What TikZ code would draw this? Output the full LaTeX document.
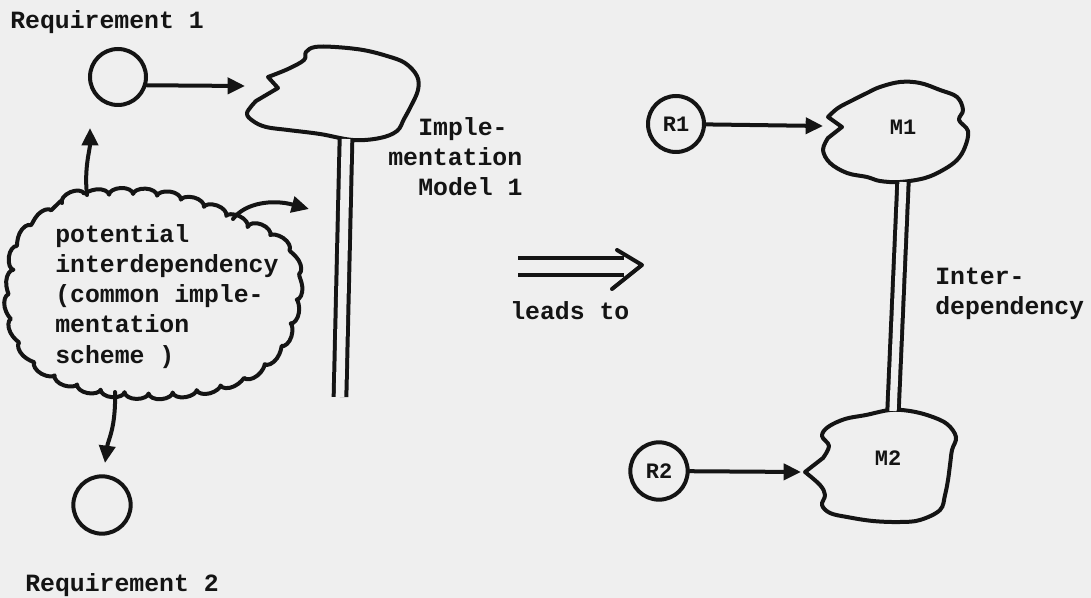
\documentclass[tikz,border=0pt]{standalone}
\usepackage{fontspec}
\setmonofont{Liberation Mono}
\usetikzlibrary{arrows.meta,decorations.pathmorphing}

\definecolor{paper}{HTML}{EFEFEF}
\definecolor{ink}{HTML}{141414}

\begin{document}
\begin{tikzpicture}[x=0.75pt,y=-0.75pt,
  inkline/.style={draw=ink,line width=3pt,line cap=round,line join=round},
  tipped/.style={inkline,-{Triangle[length=13pt,width=12pt]}},
  lbl/.style={font=\fontsize{18.6}{22.6}\selectfont\ttfamily\bfseries,text=ink,inner sep=0pt,align=left},
  small/.style={font=\fontsize{16.5}{19}\selectfont\ttfamily\bfseries,text=ink,inner sep=0pt},
  reqcircle/.style={circle,draw=ink,line width=3pt,minimum size=42pt,inner sep=0pt},
  rail/.style={draw=ink,line width=3pt,double=paper,line cap=butt},
  blob/.style={inkline,fill=paper}
]
\fill[paper] (0,0) rectangle (1091,598);
\useasboundingbox (0,0) rectangle (1091,598);

% ---------------- left half: requirements and implementation model
\node[lbl,anchor=base west] (req1) at (10,29) {Requirement 1};
\node[lbl,anchor=base west] (req2) at (25,591) {Requirement 2};
\node[reqcircle] (c1) at (118,77) {};
\node[reqcircle,minimum size=43pt] (c2) at (102,505) {};

% implementation model 1 cloud
\draw[blob] plot[smooth,tension=0.6] coordinates {
  (256,101) (247,113) (253,121) (266,127) (288,130) (320,134) (353,140)
  (380,138) (397,131) (404,119) (411,106) (418,90) (417,76) (405,63)
  (387,56) (363,50) (335,47) (315,47) (306,52) (304,60) (288,69) (268,77)}
  -- (278,88) -- cycle;
\coordinate (cl1in) at (245,86);
\coordinate (cl1b) at (346,139);
\coordinate (cl1end) at (340,397);
% multi-line labels are anchored at the baseline of their last line
\node[lbl,anchor=base west] (impl) at (388,196)
  {\hspace*{22.5pt}Imple-\\mentation\\\hspace*{22.5pt}Model 1};

\draw[rail,double distance=6.5pt] (cl1b) -- (cl1end);
\draw[tipped] (c1.-16) -- (cl1in);

% potential interdependency cloud (scalloped outline)
\draw[inkline,fill=paper,decorate,decoration={bumps,segment length=36pt,amplitude=5pt}]
  plot[smooth cycle,tension=0.7] coordinates {
  (40,222) (62,203) (100,196) (150,196) (195,205) (232,220) (268,236)
  (288,256) (295,282) (290,318) (276,348) (248,372) (200,388) (135,392)
  (75,382) (35,358) (15,322) (13,282) (20,248)};
\node[lbl,anchor=base west] (pi) at (55,363)
  {potential\\interdependency\\(common imple-\\mentation\\scheme )};
\coordinate (piN) at (87,195);
\coordinate (piNE) at (233,219);
\coordinate (piS) at (115,392);
\coordinate (upTip) at (90,128);
\coordinate (rtTip) at (309,209);
\coordinate (dnTip) at (105,463);
\draw[tipped] (piN) .. controls (84,168) and (90,150) .. (upTip);
\draw[tipped] (piNE) .. controls (245,203) and (272,199) .. (rtTip);
\draw[tipped] (piS) .. controls (116,428) and (108,440) .. (dnTip);

% ---------------- "leads to"
\coordinate (ldS) at (518,266.5);
\coordinate (ldE) at (624,266.5);
\coordinate (ldTip) at (642,265);
\draw[rail,line width=2.8pt,double distance=10pt] (ldS) -- (ldE);
\draw[inkline,line width=3pt] ([shift={(-25,-15)}]ldTip) -- (ldTip) -- ([shift={(-30,24)}]ldTip);
\node[lbl,anchor=base west] (leads) at (510,320) {leads to};

% ---------------- right half: R1/M1, R2/M2
\node[reqcircle,small,draw=ink] (r1) at (676,124) {R1};
\node[reqcircle,small,draw=ink,minimum size=43pt] (r2) at (659,471) {R2};

\draw[blob] plot[smooth,tension=0.6] coordinates {
  (828,138) (823,150) (830,163) (847,173) (867,177) (880,181) (900,182)
  (925,178) (943,170) (957,160) (965,147) (968,131) (959,120) (963,110)
  (957,97) (940,90) (920,83) (900,82) (880,87) (867,93) (853,100)
  (838,108) (828,117)} -- (842,127) -- cycle;
\node[small] (m1) at (903,127) {M1};

\draw[blob] plot[smooth,tension=0.6] coordinates {
  (805,472) (820,485) (825,495) (822,505) (830,513) (847,517) (873,521)
  (900,522) (920,520) (940,510) (945,495) (948,480) (950,465) (952,450)
  (956,437) (947,424) (930,416) (910,411) (890,410) (866,415) (845,419)
  (828,427) (822,436) (829,446) (823,458)} -- cycle;
\node[small] (m2) at (888,458) {M2};

\coordinate (m1in) at (823,126);
\coordinate (m2in) at (801,472);
\coordinate (m1b) at (903,182);
\coordinate (m2t) at (893,411);
\draw[rail,double distance=5.5pt] (m1b) -- (m2t);
\draw[tipped] (r1) -- (m1in);
\draw[tipped] (r2) -- (m2in);
\node[lbl,anchor=base west] (inter) at (935,315) {Inter-\\dependency};
\end{tikzpicture}
\end{document}
